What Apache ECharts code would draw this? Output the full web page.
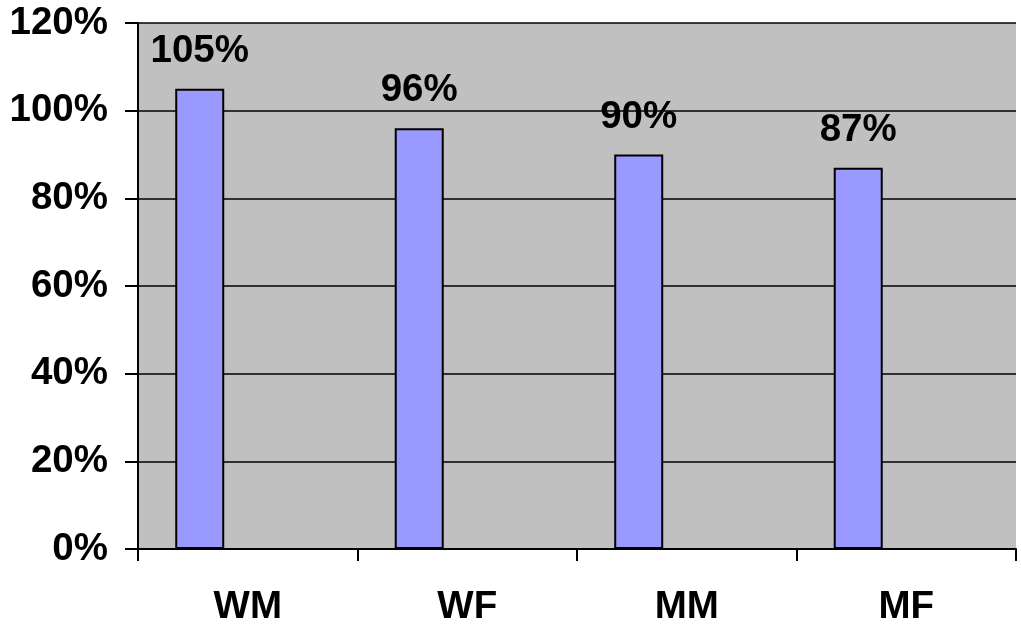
<!DOCTYPE html>
<html>
<head>
<meta charset="utf-8">
<script src="https://cdn.jsdelivr.net/npm/echarts@6/dist/echarts.min.js"></script>
<style>
  html, body { margin: 0; padding: 0; background: #fff; }
  #chart { width: 1021px; height: 634px; }
</style>
</head>
<body>
<div id="chart"></div>
<script>
// chart data
const categories = ['WM', 'WF', 'MM', 'MF']
const ratioValues = [105, 96, 90, 87]
const yTicks = [0, 20, 40, 60, 80, 100, 120]

const font = "'Liberation Sans', Arial, sans-serif"
const chart = echarts.init(document.getElementById('chart'))

chart.setOption({
  animation: false,
  textStyle: { fontFamily: font },
  grid: {
    left: 138,
    right: 5,
    top: 23,
    bottom: 85,
    show: true,
    backgroundColor: '#c0c0c0',
    borderWidth: 0
  },
  xAxis: {
    type: 'category',
    data: categories,
    boundaryGap: true,
    axisLine: { lineStyle: { color: '#000', width: 2 } },
    axisTick: { show: true, length: 12, lineStyle: { color: '#000', width: 2 } },
    axisLabel: {
      margin: 39,
      color: '#000',
      fontSize: 38.5,
      fontWeight: 'bold',
      fontFamily: font
    }
  },
  yAxis: {
    type: 'value',
    min: yTicks[0],
    max: yTicks[yTicks.length - 1],
    interval: 20,
    axisLine: { show: true, lineStyle: { color: '#000', width: 2 } },
    axisTick: { show: true, length: 13, lineStyle: { color: '#000', width: 2 } },
    splitLine: { lineStyle: { color: '#000', width: 1.5 } },
    axisLabel: {
      margin: 30,
      color: '#000',
      fontSize: 38.5,
      fontWeight: 'bold',
      fontFamily: font,
      formatter: '{value}%'
    }
  },
  series: [
    {
      type: 'bar',
      data: ratioValues,
      barWidth: 49,
      barGap: '-2%',
      itemStyle: { color: '#9999ff', borderColor: '#000', borderWidth: 2 },
      label: {
        show: true,
        position: 'top',
        distance: 18,
        color: '#000',
        fontSize: 38.5,
        fontWeight: 'bold',
        fontFamily: font,
        formatter: '{c}%'
      }
    },
    // two empty series keep the Excel-like left offset of the bars
    { type: 'bar', data: [], barWidth: 49, silent: true },
    { type: 'bar', data: [], barWidth: 49, silent: true }
  ]
})
</script>
</body>
</html>
